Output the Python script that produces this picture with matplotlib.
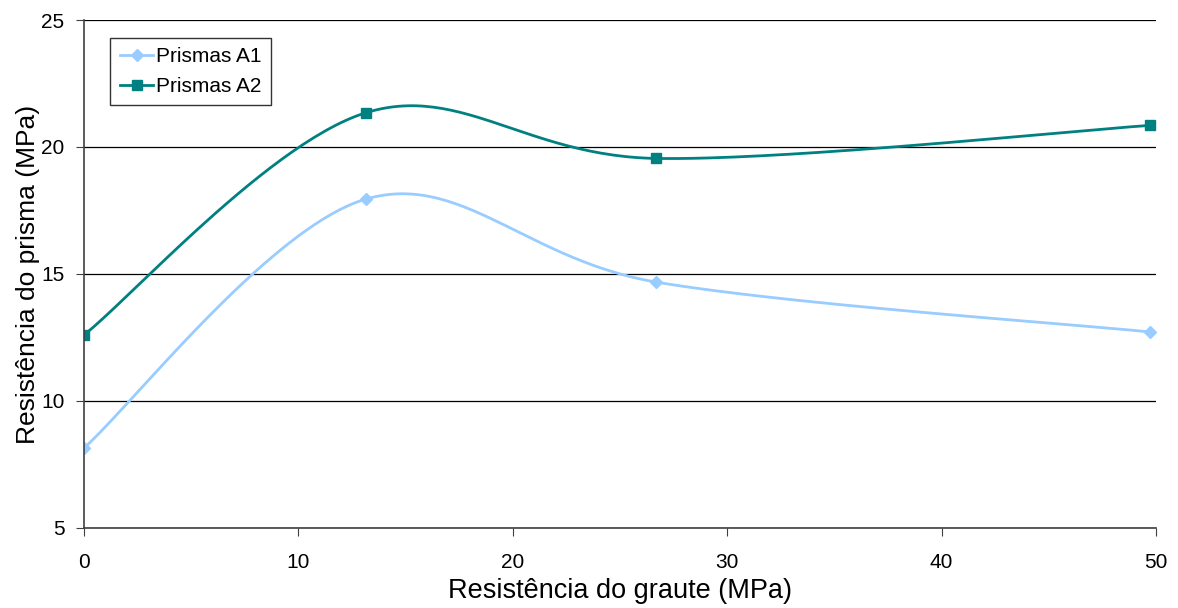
import matplotlib
matplotlib.use("Agg")
from matplotlib import pyplot as plt
import numpy as np

plt.rcParams['font.family'] = ['Liberation Sans', 'DejaVu Sans']

graute = [0, 13.15, 26.7, 49.7]
prisma_a1 = [8.15, 17.95, 14.68, 12.72]
prisma_a2 = [12.6, 21.35, 19.55, 20.85]
nomes = ['Prismas A1', 'Prismas A2']


def suaviza(x, y, n=60):
 # curva suave tipo excel (bezier com pontos de controle catmull-rom)
 p = np.column_stack([x, y]).astype(float)
 p = np.vstack([p[0], p, p[-1]])
 out = []
 t = np.linspace(0, 1, n)[:, None]
 for i in range(1, len(p) - 2):
  p0, p1, p2, p3 = p[i - 1], p[i], p[i + 1], p[i + 2]
  c1 = p1 + (p2 - p0) / 6
  c2 = p2 - (p3 - p1) / 6
  seg = (1 - t) ** 3 * p1 + 3 * (1 - t) ** 2 * t * c1 + 3 * (1 - t) * t ** 2 * c2 + t ** 3 * p2
  out.append(seg)
 out = np.vstack(out)
 return out[:, 0], out[:, 1]


fig = plt.figure(figsize=(11.78, 6.08), dpi=100)
ax = fig.add_axes([0.0713, 0.1316, 0.91, 0.8355])

series = [(prisma_a1, '#99CCFF', 'D', 6), (prisma_a2, '#008080', 's', 6.5)]
for (ys, cor, mk, ms), nome in zip(series, nomes):
 sx, sy = suaviza(graute, ys)
 ax.plot(sx, sy, color=cor, lw=2)
 ax.plot(graute, ys, ls='none', marker=mk, color=cor, ms=ms)
 ax.plot([], [], color=cor, lw=2, marker=mk, ms=ms, label=nome)

ax.set_xlim(0, 50)
ax.set_ylim(5, 25)
ax.set_xticks([0, 10, 20, 30, 40, 50])
ax.set_yticks([5, 10, 15, 20, 25])
ax.grid(axis='y', color='black', lw=0.9)
ax.set_axisbelow(True)
for s in ['top', 'right']:
 ax.spines[s].set_visible(False)
for s in ['left', 'bottom']:
 ax.spines[s].set_color('#404040')
 ax.spines[s].set_linewidth(1.2)
ax.tick_params(labelsize=15, length=6, color='#404040', direction='out')
ax.tick_params(axis='x', pad=12)
ax.tick_params(axis='y', pad=8)
ax.set_xlabel('Resistência do graute (MPa)', fontsize=19.5, labelpad=4)
ax.set_ylabel('Resistência do prisma (MPa)', fontsize=19, labelpad=1)

leg = ax.legend(loc='upper left', bbox_to_anchor=(0.015, 0.985), fontsize=15, frameon=True,
                fancybox=False, edgecolor='black', handlelength=1.6, handletextpad=0.15,
                borderpad=0.45, labelspacing=0.5)
leg.get_frame().set_linewidth(1)

fig.savefig('out.png', dpi=100)
